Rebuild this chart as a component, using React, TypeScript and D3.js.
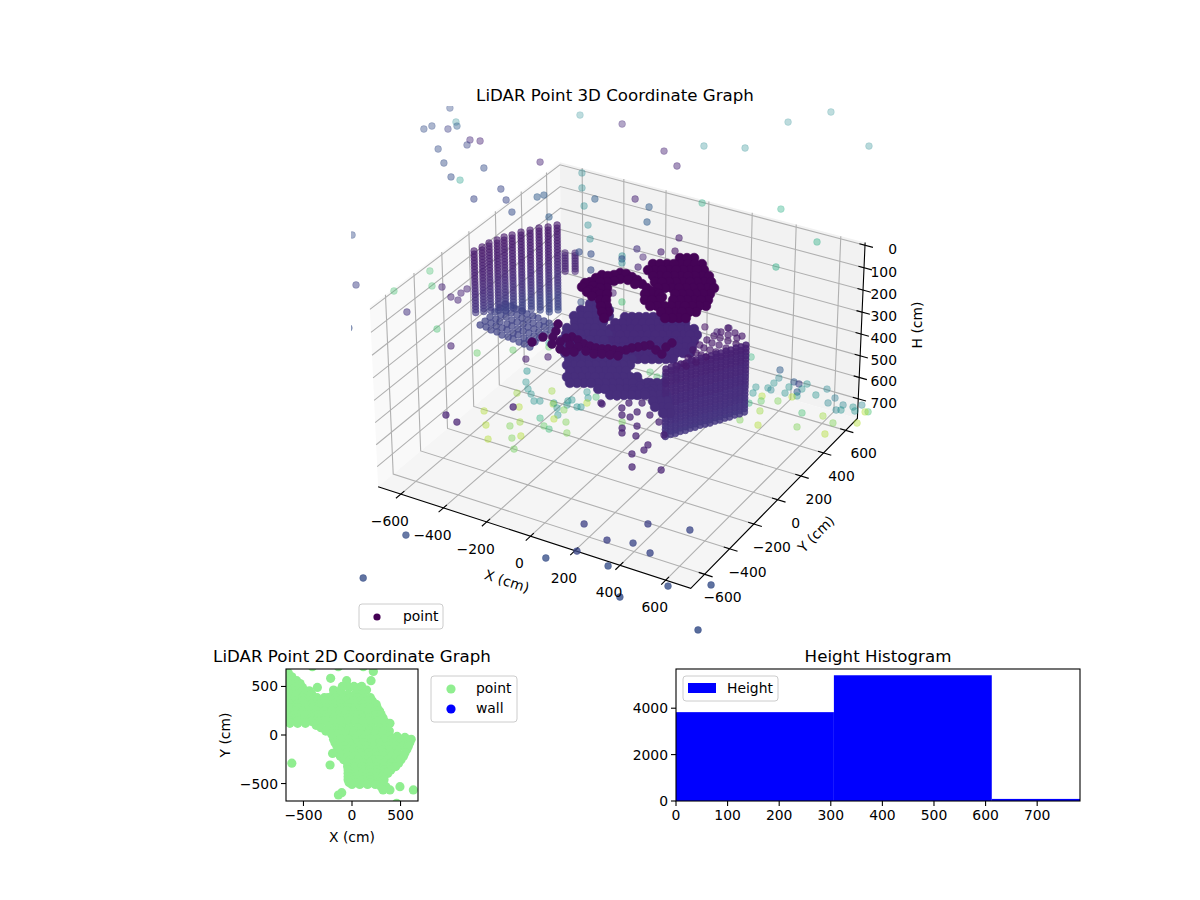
import React from "react";
import * as d3 from "d3";

// ---------- point cloud, x,y pairs in cm ----------
const farX = [-1470,-1455,-1441,-1372,-1347,-1365,-1226,-1183,-1211,-1297,-1204,-1033,-1108,-1060,-857,-869,-918,-798,-701,-686,-721,-567,-942,-652,-582,-485,-492,-393,-325,-257,-190,-307,-739,-454,-338,-330,-169,-126,-10,280,-84,222,480,434,-341,-256,-198,-18,-119,-23,22,-141,-129,-112,46,-40];
const farY = [1042,811,853,938,907,863,821,834,774,680,581,626,487,482,792,498,366,425,512,541,346,385,1266,793,675,616,540,404,305,197,82,188,1281,1144,1049,1271,1342,1657,1839,1623,806,921,740,471,699,666,547,492,326,352,387,245,223,194,-80,197];
const farTone = [.25,.25,.25,.47,.3,.2,.12,.1,.22,.25,.25,.25,.25,.55,.1,.22,.22,.22,.3,.3,.25,.3,.47,.47,.47,.3,.47,.47,.47,.25,.25,.25,.12,.1,.1,.47,.47,.47,.47,.47,.62,.62,.62,.62,.1,.3,.3,.08,.15,.08,.05,.47,.25,.47,.7,.1];
const farH = 60;

const midX = [-1555,-1292,-1114,-1092,-1127,-1014,-973,-983,-874,-877,-895,-856,-800,-677,-556,-444,-362,-294,-332,-348,-309,195,222,133,-408,-267,-332,-379];
const midY = [383,26,-287,281,62,177,190,-59,228,186,137,130,-115,-202,-197,-105,-140,-82,-12,15,-218,432,484,443,369,364,501,834];
const midTone = [.25,.2,.25,.7,.7,.7,.1,.15,.1,.1,.1,.1,.7,.1,.75,.75,.08,.08,.75,.5,.5,.1,.1,.05,.25,.08,.08,.1];
const midH = 400;

const floorX = [-495,-459,-427,-388,-367,-481,-366,-522,-416,-458,-371,-352,-298,-310,-279,-309,-248,-246,-247,-192,-253,-223,-146,-394,-316,-293,-265,-269,-259,-256,-213,-199,-194,-210,-186,-238,3,362,388,340,352,389,386,404,465,457,456,481,510,510,504,518,581,599,659,652,712,705,722,754,778,774,813,823,823,395,410,469,504,375,442,596,680,405,486,628,739,749,209,-50,-94,-20,25,-25];
const floorY = [70,27,-1,-42,-30,-23,62,-209,-112,-297,-255,-209,-143,-15,-42,-23,-87,-121,-41,-117,-187,-197,-187,-383,-329,-298,-395,27,42,-2,5,13,52,88,111,127,-4,677,617,506,458,571,524,516,523,574,620,616,632,586,555,527,572,637,590,541,557,508,518,563,595,539,553,560,460,455,419,453,510,380,348,419,440,246,248,313,412,321,711,374,394,447,408,397];
const floorTone = [.5,.5,.5,.5,.5,.85,.85,.88,.88,.88,.8,.85,.65,.5,.5,.85,.5,.88,.8,.8,.75,.68,.8,.88,.8,.88,.78,.5,.5,.5,.5,.5,.88,.5,.7,.5,.78,.3,.45,.5,.5,.5,.5,.45,.5,.5,.3,.2,.5,.5,.3,.5,.5,.45,.4,.45,.45,.45,.5,.5,.45,.5,.88,.7,.88,.88,.75,.8,.88,.65,.85,.7,.85,.8,.88,.8,.8,.88,.65,.72,.72,.5,.5,.5];
const floorH = 650;

const frontX = [10,30,526,650,593,520,736,868,725,875,740,824,980,1107,1198];
const frontY = [-1565,-1867,-1184,-1233,-1347,-1440,-1373,-1518,-1069,-1028,-1203,-1228,-1376,-1295,-1555];
const frontTone = [.25,.25,.2,.2,.22,.25,.25,.25,.2,.22,.22,.22,.25,.25,.25];
const frontH = 300;

const scatterX = [-302,-499,-433,-17,15,325,432,278,304,299,226,168,150,193,101,136,74,79,141,124,196,-9,317,253];
const scatterY = [-337,-521,-544,-137,-66,-486,-449,-405,-357,-317,-283,-291,-259,-217,-175,-172,-129,-82,-125,-56,-120,-142,-222,-148];
const scatterH = 500;

// left wall: scan columns, the heights each column reaches, and the tone per height
const wallAX = [-717,-707,-701,-686,-675,-656,-638,-615,-593,-565,-542];
const wallAY = [48,93,136,174,210,241,281,314,348,374,407];
const wallABottom = [390,400,414,423,436,449,467,476,489,494,494];
const wallAHeights = [100,114,128,142,156,170,184,198,212,226,240,254,268,282,296,310,324,338,352,366,380,394,408,422,436,450,464,478,492];
const wallATones = [.07,.07,.07,.08,.08,.08,.09,.09,.09,.1,.1,.11,.11,.12,.12,.13,.14,.14,.15,.16,.17,.18,.19,.2,.2,.21,.21,.22,.22];

const extraX = [-488,-452];
const extraY = [378,398];
const extraHeights = [200,212,224,236,248,260,272,284];

const fanX = [-705,-675,-645,-615,-584,-554,-528,-494,-468,-435,-705,-675,-644,-614,-588,-554,-528,-494,-468,-438,-705,-675,-649,-614,-588,-554,-527,-498,-467,-438,-710,-675,-648,-614,-587,-557,-527,-497,-467,-437,-709,-675,-648,-618,-587,-557,-526,-496,-470,-436,-709,-679,-648,-618,-587,-557,-530,-496,-469,-435];
const fanY = [60,58,48,46,35,34,30,21,18,9,98,96,86,84,80,72,68,59,56,54,136,134,124,122,118,110,106,104,93,92,182,173,169,160,157,155,144,142,131,130,221,212,208,206,195,193,182,181,177,168,260,258,247,245,234,232,228,219,215,206];
const fanH = 440;

// right wall: scan columns × heights
const wallBX = [244,254,267,276,290,299,312,322,335,348,358,371,381,394,404,417,427];
const wallBY = [-80,-56,-40,-17,0,23,40,63,80,97,120,137,160,177,201,218,241];
const wallBHeights = [300,316,332,348,364,380,396,412,428,444,460,476,492,508,524,540,556,572,588,604];
const wallBTones = [.09,.09,.1,.1,.1,.11,.11,.11,.12,.12,.12,.13,.13,.13,.14,.14,.15,.15,.16,.16];

const latticeX = [264,269,274,283,292,301,278,286,294,303,312,328,344,287,299,311,323,335,350,370,380,270,301,320,335,350,370,389];
const latticeY = [102,150,199,241,283,325,38,88,138,188,239,276,304,-11,32,84,136,188,234,272,296,-38,-20,26,80,134,181,229];
const latticeH = 300;

const discX = [-216,-191,-166,-141,-116,-91,-226,-202,-177,-152,-127,-102,-78,-53,-28,-3,22,-219,-195,-170,-145,-120,-96,-71,-46,-22,3,28,52,77,-184,-159,-135,-110,-86,-61,-36,-12,13,38,62,87,111,-170,-146,-121,-97,-72,-47,-23,2,26,51,75,100,124,-128,-104,-79,-55,-31,-6,18,43,67,92,116,141,-87,-63,-38,-14,11,35,59,84,108,133,157,-1,24,48,72,97,121];
const discY = [398,413,427,441,456,470,335,349,364,378,392,406,421,435,449,464,478,282,296,311,325,339,353,368,382,396,410,425,439,453,246,260,274,288,303,317,331,345,360,374,388,402,416,198,212,226,240,254,268,283,297,311,325,339,353,368,166,180,194,208,222,237,251,265,279,293,307,321,134,148,163,177,191,205,219,233,247,261,275,129,143,157,171,185,199];
const discH = 430;

const massX = [-386,-361,-336,-393,-368,-343,-318,-293,-392,-367,-342,-317,-293,-268,-363,-338,-314,-289,-264,-366,-341,-317,-292,-267,-243,-344,-320,-295,-271,-246,-221,-197,-334,-309,-284,-260,-235,-211,-186,-291,-267,-242,-217,-193,-168,-144,-269,-245,-221,-196,-172,-148,-123,-99,-75,-231,-207,-183,-158,-134,-110,-86,-61,-37,-13,-214,-190,-165,-141,-117,-93,-69,-44,-20,4,-179,-155,-131,-107,-83,-59,-35,-11,14,-166,-142,-118,-94,-70,-46,-21,3,27,51,75,-132,-108,-84,-60,-36,-12,12,36,60,84,108,132,-12,11,35,59,83,107,131,155,52,75,99,123,147,142,166,190,175,199,171,194,218,242,220,244,268,249,273,296,298,322,161,161,120,119,175,140];
const massY = [405,419,434,343,357,372,386,400,285,300,314,329,343,357,245,259,273,288,302,186,200,215,229,243,257,142,156,171,185,199,213,227,92,106,121,135,149,163,177,52,66,80,94,108,123,137,9,23,37,51,65,79,93,107,121,-24,-10,4,18,32,46,60,74,88,102,-69,-55,-41,-27,-13,1,15,29,43,57,-103,-89,-75,-61,-47,-33,-20,-6,8,-149,-135,-121,-107,-94,-80,-66,-52,-38,-24,-10,-183,-169,-155,-142,-128,-114,-100,-86,-72,-59,-45,-31,-167,-154,-140,-126,-112,-99,-85,-71,-183,-170,-156,-142,-128,-25,-11,3,-59,-45,-115,-101,-87,-74,-139,-125,-111,-174,-160,-147,-198,-184,-42,-97,-65,-112,-80,-130];
const massH = 420;

const darkX = [-23,2,27,-93,-68,-44,-19,5,30,55,79,-85,-61,-36,-12,13,37,61,86,110,-43,-19,6,30,54,79,103,127,152,-12,13,37,61,85,110,134,158,183,23,47,71,96,120,144,168,192,217,2,26,51,106,130,154,178,202,226,26,51,75,123,147,171,195,219,243,68,91,115,139,163,187,211,235,259,129,153,176,200,224,248,166,190,213,237];
const darkY = [510,524,539,411,425,440,454,468,482,496,510,357,371,385,400,414,428,442,456,470,324,338,352,366,380,394,408,422,436,284,298,312,326,340,354,369,383,397,247,261,275,289,303,317,331,345,359,179,193,207,238,252,266,280,294,308,136,150,164,192,206,220,234,247,261,104,118,132,146,160,173,187,201,215,84,98,112,125,139,153,50,64,78,91];
const darkH = 160;

const ringX = [-244,-206,-250,-237,-233,-225,-200,-183,-170,-145,-112,-82,-49,-15,14,40,73,-210,-202,-178,-158,-145,-114,-73,-177,-153,-153,-128,-128,-107,-100,-80,-72,-52,-41,-175,-172,-204];
const ringY = [103,78,137,154,195,228,233,253,279,284,274,263,244,225,214,210,191,132,174,188,210,236,245,230,132,146,89,103,47,59,7,19,-32,-20,-69,95,59,98];
const ringH = 160;

const bandX = [-250,-245,-229,-196,-159,-130,-102,-77,-56,-32,-7,9,21,39,56,72,112,148,135,140,-203,-168,-124,-85,-57,-26,5,-221,-189,-161,-346,-329,-295,-309,-331,-269];
const bandY = [-61,-22,-3,-11,-27,-29,-30,-25,-13,-8,-3,16,41,60,79,97,75,59,115,155,-62,-59,-71,-75,-59,-50,-41,-109,-117,-101,-117,-61,-41,6,59,-91];
const bandH = 330;

// 2D plan view: rows [y, x...]
const planRows: [number, number[]][] = [
  [640,[-656]],[704,[-408,-141,117]],[655,[220]],[600,[-660,-620]],[584,[-220]],[560,[-640,-570,-55,196]],[530,[-535]],[520,[-660,-600,-540]],
  [490,[-660,-585,-510,-357,-30,80]],[500,[-100,20,100]],[463,[-190,-115,150]],[455,[-660,-585,-510,-440]],
  [420,[-640,-565,-490,-415,-190,-115,-40,35,110]],
  [385,[-660,-585,-510,-435,-360,-285,-245,-170,-95,-20,55,130,190]],
  [350,[-660,-585,-510,-435,-360,-285,-210,-135,-60,15,90,165,210]],
  [315,[-640,-565,-490,-415,-340,-265,-190,-115,-40,35,110,185,250]],
  [280,[-640,-565,-490,-415,-340,-265,-190,-115,-40,35,110,185,260]],
  [245,[-660,-585,-510,-435,-360,-285,-210,-135,-60,15,90,165,240,285]],
  [210,[-660,-585,-510,-435,-360,-285,-210,-135,-60,15,90,165,240,300]],
  [175,[-640,-565,-490,-415,-340,-265,-190,-115,-40,35,110,185,260,320]],
  [140,[-640,-565,-490,-415,-340,-265,-190,-115,-40,35,110,185,260,335]],
  [120,[-640,-560,-480,391]],[100,[-370]],
  [75,[-320,-245,-170,-95,-20,55,130,205,280,345]],
  [40,[-270,-195,-120,-45,30,105,180,255,330,385]],
  [10,[-210,-135,-60,15,90,165,240,315]],[-15,[390,465]],[-25,[545]],
  [-45,[-190,-115,-40,35,110,185,260,335,410,485,560,610]],
  [-80,[-175,-100,-25,50,125,200,275,350,425,500,595]],
  [-115,[-155,-80,-5,70,145,220,295,370,445,520,580]],
  [-150,[-140,-65,10,85,160,235,310,385,460,565]],
  [-185,[-130,-55,20,95,170,245,320,395,470,545]],
  [-190,[-200]],
  [-220,[-120,-45,30,105,180,255,330,405,480,530]],
  [-255,[-85,-10,65,140,215,290,365,440,505]],
  [-290,[-45,30,105,180,255,330,405,480,-620]],[-309,[-226]],
  [-325,[-45,30,105,180,255,330,405,450]],
  [-360,[-40,35,110,185,260,335,400]],
  [-395,[-40,35,110,185,260,335,370]],
  [-430,[-40,30,105,180,255,320]],
  [-460,[-40,35,110,185,260,330]],
  [-490,[-30,45,120,195,270]],
  [-510,[0,80,160,240]],
  [-532,[300,350,494]],[-566,[632,391,320]],[-594,[-106]],[-618,[-140]],[-704,[460]],
];

// histogram
const histEdges = [0,306,612,783];
const histCounts = [3830,5420,90];
const histXTicks = [0,100,200,300,400,500,600,700];
const histYTicks = [0,2000,4000];
const ticks3d = [-600,-400,-200,0,200,400,600];
const hTicks = [0,100,200,300,400,500,600,700];
const ticks2d = [-500,0,500];

// ---------- mplot3d view (elev 30, azim -60) ----------
const PANE = 708, H_TOP = -12, H_BOT = 792;
const rel = d3.scaleLinear([-PANE, PANE], [-0.5714, 0.5714]);
const relZ = d3.scaleLinear([H_TOP, H_BOT], [0.233, -0.4286]);
const eyeDepth = (x: number, y: number, h: number) => 10 - (0.433013 * rel(x) - 0.75 * rel(y) + 0.5 * relZ(h));
const project = (x: number, y: number, h: number): [number, number] => {
  const d = eyeDepth(x, y, h);
  return [
    622 + (3620 * (0.75 * rel(x) + 0.433013 * rel(y))) / d,
    338 - (3620 * (-0.216506 * rel(x) + 0.375 * rel(y) + 0.75 * relZ(h))) / d,
  ];
};
const path3 = (pts: [number, number, number][], close = false) =>
  "M" + pts.map((p) => project(p[0], p[1], p[2]).map((v) => v.toFixed(2)).join(",")).join("L") + (close ? "Z" : "");

type Pt = { x: number; y: number; h: number; tone: number; solid: number; r: number };
const cloud: Pt[] = [];
const addList = (xs: number[], ys: number[], h: number, tone: (i: number) => number, solid: number, r = 3.4) =>
  xs.forEach((x, i) => cloud.push({ x, y: ys[i], h, tone: tone(i), solid, r }));
addList(farX, farY, farH, (i) => farTone[i], 0);
addList(midX, midY, midH, (i) => midTone[i], 0);
addList(floorX, floorY, floorH, (i) => floorTone[i], 0);
addList(frontX, frontY, frontH, (i) => frontTone[i], 0);
addList(scatterX, scatterY, scatterH, () => 0.09, 0.72);
wallAX.forEach((x, c) => wallAHeights.forEach((h, r) => { if (h <= wallABottom[c]) cloud.push({ x, y: wallAY[c], h, tone: wallATones[r], solid: 0.62, r: 3.4 }); }));
extraX.forEach((x, c) => extraHeights.forEach((h) => cloud.push({ x, y: extraY[c], h, tone: 0.1, solid: 0.55, r: 3.4 })));
addList(fanX, fanY, fanH, () => 0.2, 0.72);
wallBX.forEach((x, c) => wallBHeights.forEach((h, r) => cloud.push({ x, y: wallBY[c], h, tone: wallBTones[r], solid: 0.85, r: 3.4 })));
addList(latticeX, latticeY, latticeH, () => 0.07, 0.65);
addList(discX, discY, discH, () => 0.12, 1, 4.8);
addList(massX, massY, massH, () => 0.13, 1, 4.8);
addList(darkX, darkY, darkH, () => 0.01, 1, 4.8);
addList(ringX, ringY, ringH, () => 0.01, 1, 4.8);
addList(bandX, bandY, bandH, () => 0.03, 1, 4.4);

const depthAlpha = d3.scaleLinear(d3.extent(cloud, (p) => eyeDepth(p.x, p.y, p.h)) as [number, number], [0.85, 0.4]);
const markAlpha = (p: Pt) => {
  const a = depthAlpha(eyeDepth(p.x, p.y, p.h)) * (p.tone >= 0.4 ? 0.72 : 1);
  return Math.max(a, p.solid);
};
const sorted = [...cloud].sort((a, b) => eyeDepth(b.x, b.y, b.h) - eyeDepth(a.x, a.y, a.h));

const FONT = "'DejaVu Sans', sans-serif";
const minus = (v: number) => String(v).replace("-", "\u2212");
const GRID = "#b0b0b0";

function Scatter3D() {
  const left = -PANE, right = PANE;
  return (
    <g>
      <defs>
        <clipPath id="clip3d"><rect x={351} y={106} width={542} height={530} /></clipPath>
        <clipPath id="clip2d"><rect x={286} y={669} width={132} height={132} /></clipPath>
      </defs>
      <path d={path3([[left,left,H_BOT],[left,right,H_BOT],[left,right,H_TOP],[left,left,H_TOP]],true)} fill="#f9f9f9" />
      <path d={path3([[left,right,H_BOT],[right,right,H_BOT],[right,right,H_TOP],[left,right,H_TOP]],true)} fill="#f2f2f2" />
      <path d={path3([[left,left,H_BOT],[right,left,H_BOT],[right,right,H_BOT],[left,right,H_BOT]],true)} fill="#f5f5f5" />
      <g fill="none" stroke={GRID} strokeWidth={1.1}>
        {ticks3d.map((t) => <path key={"gx"+t} d={path3([[t,left,H_BOT],[t,right,H_BOT],[t,right,H_TOP]])} />)}
        {ticks3d.map((t) => <path key={"gy"+t} d={path3([[right,t,H_BOT],[left,t,H_BOT],[left,t,H_TOP]])} />)}
        {hTicks.map((t) => <path key={"gh"+t} d={path3([[left,left,t],[left,right,t],[right,right,t]])} />)}
      </g>
      <g fill="none" stroke="#000" strokeWidth={1.1}>
        <path d={path3([[left,left,H_BOT],[right,left,H_BOT],[right,right,H_BOT],[right,right,H_TOP]])} />
        {ticks3d.map((t) => <path key={"tx"+t} d={path3([[t,left+25,H_BOT],[t,left-35,H_BOT]])} />)}
        {ticks3d.map((t) => <path key={"ty"+t} d={path3([[right-25,t,H_BOT],[right+35,t,H_BOT]])} />)}
        {hTicks.map((t) => <path key={"th"+t} d={path3([[right-25,right,t],[right+35,right,t]])} />)}
      </g>
      <g clipPath="url(#clip3d)">
        {sorted.map((p, i) => {
          const [sx, sy] = project(p.x, p.y, p.h);
          const a = markAlpha(p);
          const c = d3.interpolateViridis(p.tone);
          return <circle key={i} cx={sx} cy={sy} r={p.r} fill={c} stroke={c} strokeWidth={0.6} fillOpacity={a} strokeOpacity={a} />;
        })}
      </g>
      <g fontFamily={FONT} fontSize={13.9} fill="#000" textAnchor="middle">
        {ticks3d.map((t) => { const [px, py] = project(t, left, H_BOT);
          return <text key={"lx"+t} x={px - 11} y={py + 32}>{minus(t)}</text>; })}
        {ticks3d.map((t) => { const [px, py] = project(right, t, H_BOT);
          return <text key={"ly"+t} x={px + 18} y={py + 28}>{minus(t)}</text>; })}
        {hTicks.map((t) => { const [, py] = project(right, right, t);
          return <text key={"lh"+t} x={897} y={py + 9} textAnchor="end">{t}</text>; })}
        <text x={507} y={586} transform="rotate(18 507 581)">X (cm)</text>
        <text x={816} y={539} transform="rotate(-45 816 534)">Y (cm)</text>
        <text x={0} y={0} transform="translate(922 325) rotate(-90)">H (cm)</text>
        <text x={615} y={101} fontSize={16.67}>LiDAR Point 3D Coordinate Graph</text>
      </g>
      <g fontFamily={FONT} fontSize={13.9}>
        <rect x={359} y={604} width={84} height={25} rx={3} fill="#fff" stroke="#ccc" />
        <circle cx={377} cy={617} r={3.6} fill={d3.interpolateViridis(0)} />
        <text x={403} y={621}>point</text>
      </g>
    </g>
  );
}

function Plan2D() {
  const x = d3.scaleLinear([-680, 680], [286, 418]);
  const y = d3.scaleLinear([-680, 680], [801, 669]);
  return (
    <g fontFamily={FONT} fontSize={13.9} fill="#000">
      <g clipPath="url(#clip2d)">
        {planRows.flatMap(([v, xs], r) => xs.map((u, i) => <circle key={r+"-"+i} cx={x(u)} cy={y(v)} r={4.6} fill="#90ee90" />))}
      </g>
      <rect x={286} y={669} width={132} height={132} fill="none" stroke="#000" strokeWidth={1.1} />
      {ticks2d.map((t) => <g key={t}>
        <line x1={x(t)} x2={x(t)} y1={801} y2={806} stroke="#000" strokeWidth={1.1} />
        <text x={x(t)} y={820} textAnchor="middle">{minus(t)}</text>
        <line x1={281} x2={286} y1={y(t)} y2={y(t)} stroke="#000" strokeWidth={1.1} />
        <text x={278} y={y(t) + 5} textAnchor="end">{minus(t)}</text>
      </g>)}
      <text x={352} y={842} textAnchor="middle">X (cm)</text>
      <text x={0} y={0} transform="translate(230 735) rotate(-90)" textAnchor="middle">Y (cm)</text>
      <text x={352} y={662} textAnchor="middle" fontSize={16.67}>LiDAR Point 2D Coordinate Graph</text>
      <rect x={431} y={676} width={86} height={46} rx={3} fill="#fff" stroke="#ccc" />
      <circle cx={451} cy={689} r={4.6} fill="#90ee90" />
      <circle cx={451} cy={709} r={4.6} fill="#0000ff" />
      <text x={476} y={693}>point</text>
      <text x={476} y={713}>wall</text>
    </g>
  );
}

function Histogram() {
  const x = d3.scaleLinear([0, 783], [676, 1080]);
  const y = d3.scaleLinear([0, 5690], [801, 669]);
  return (
    <g fontFamily={FONT} fontSize={13.9} fill="#000">
      {histCounts.map((c, i) => <rect key={i} x={x(histEdges[i])} y={y(c)} width={x(histEdges[i+1]) - x(histEdges[i])} height={801 - y(c)} fill="#0000ff" />)}
      <rect x={676} y={669} width={404} height={132} fill="none" stroke="#000" strokeWidth={1.1} />
      {histXTicks.map((t) => <g key={t}>
        <line x1={x(t)} x2={x(t)} y1={801} y2={806} stroke="#000" strokeWidth={1.1} />
        <text x={x(t)} y={820} textAnchor="middle">{t}</text>
      </g>)}
      {histYTicks.map((t) => <g key={t}>
        <line x1={671} x2={676} y1={y(t)} y2={y(t)} stroke="#000" strokeWidth={1.1} />
        <text x={668} y={y(t) + 5} textAnchor="end">{t}</text>
      </g>)}
      <text x={878} y={662} textAnchor="middle" fontSize={16.67}>Height Histogram</text>
      <rect x={683} y={676} width={95} height={25} rx={3} fill="#fff" stroke="#ccc" />
      <rect x={688} y={683} width={28} height={10} fill="#0000ff" />
      <text x={727} y={693}>Height</text>
    </g>
  );
}

export default function App() {
  return (
    <svg width={1200} height={900} style={{ position: "absolute", left: 0, top: 0, background: "#fff" }}>
      <Scatter3D />
      <Plan2D />
      <Histogram />
    </svg>
  );
}
